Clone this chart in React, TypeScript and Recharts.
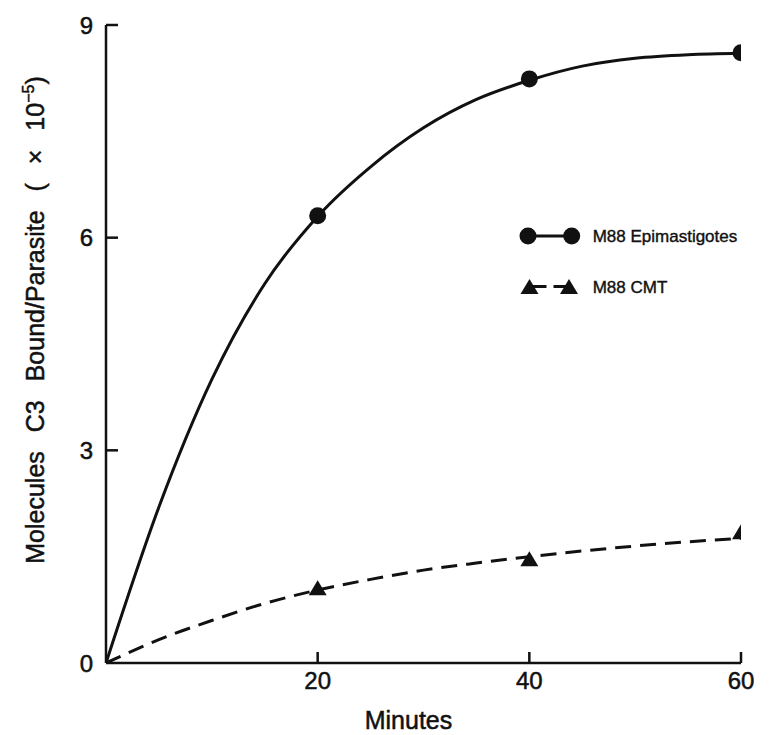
import React from "react";
import { ComposedChart, Line, Scatter, XAxis, YAxis, Legend } from "recharts";

// Fitted curves
const minutes = [0, 5, 10, 15, 20, 25, 30, 35, 40, 45, 50, 55, 60];
const epimastigoteCurve = [0, 2.2, 4.0, 5.35, 6.3, 7.0, 7.55, 7.95, 8.22, 8.42, 8.53, 8.58, 8.6];
const cmtCurve = [0, 0.33, 0.6, 0.84, 1.03, 1.18, 1.31, 1.41, 1.5, 1.58, 1.65, 1.71, 1.76];

// Measured points
const pointMinutes = [20, 40, 60];
const epimastigotePoints = [6.31, 8.24, 8.61];
const cmtPoints = [1.06, 1.47, 1.85];

const xTicks = [20, 40, 60];
const yTicks = [0, 3, 6, 9];

const seriesNames = ["M88 Epimastigotes", "M88 CMT"];

const curveData = minutes.map((t, i) => ({ t, epi: epimastigoteCurve[i], cmt: cmtCurve[i] }));
const epiData = pointMinutes.map((t, i) => ({ t, v: epimastigotePoints[i] }));
const cmtData = pointMinutes.map((t, i) => ({ t, v: cmtPoints[i] }));

const INK = "#111";
const FONT = "'Liberation Sans', Arial, Helvetica, sans-serif";
const TEXT_STROKE = { stroke: INK, strokeWidth: 0.5 };

const CircleShape = (props: any) => {
  const { cx, cy } = props;
  if (cx == null || cy == null) return <g />;
  return <circle cx={cx} cy={cy} r={8.5} fill={INK} />;
};

const TriangleShape = (props: any) => {
  const { cx, cy } = props;
  if (cx == null || cy == null) return <g />;
  const w = 18;
  const h = 15;
  return (
    <polygon
      points={`${cx - w / 2},${cy + h / 2} ${cx + w / 2},${cy + h / 2} ${cx},${cy - h / 2}`}
      fill={INK}
    />
  );
};

const XTick = (props: any) => {
  const { x, y, payload } = props;
  return (
    <g>
      <line x1={x} x2={x} y1={y} y2={y - 11} stroke={INK} strokeWidth={2.5} />
      <text x={x} y={y + 26} textAnchor="middle" fontSize={24} fill={INK} fontFamily={FONT} {...TEXT_STROKE}>
        {payload.value}
      </text>
    </g>
  );
};

const YTick = (props: any) => {
  const { x, y, payload } = props;
  return (
    <g>
      {payload.value !== 0 && (
        <line x1={x} x2={x + 12} y1={y} y2={y} stroke={INK} strokeWidth={2.5} />
      )}
      <text x={x - 13} y={y + 8.5} textAnchor="end" fontSize={24} fill={INK} fontFamily={FONT} {...TEXT_STROKE}>
        {payload.value}
      </text>
    </g>
  );
};

const YLabel = (props: any) => {
  const vb = props.viewBox || {};
  const x = (vb.x ?? 8) + 28;
  const y = (vb.y ?? 17) + (vb.height ?? 638) / 2 - 24;
  return (
    <text
      transform={`translate(${x},${y}) rotate(-90)`}
      textAnchor="middle"
      fontSize={25}
      fill={INK}
      fontFamily={FONT}
      style={{ wordSpacing: "12px" }}
      {...TEXT_STROKE}
    >
      Molecules C3 Bound/Parasite ( × 10
      <tspan dy={-10} fontSize={16}>
        −5
      </tspan>
      <tspan dy={10}>)</tspan>
    </text>
  );
};

const XLabel = (props: any) => {
  const vb = props.viewBox || {};
  const x = (vb.x ?? 98) + (vb.width ?? 635) / 2 - 15;
  const y = (vb.y ?? 655) + 66;
  return (
    <text x={x} y={y} textAnchor="middle" fontSize={25} fill={INK} fontFamily={FONT} {...TEXT_STROKE}>
      Minutes
    </text>
  );
};

const renderLegend = () => (
  <svg width={260} height={100} style={{ display: "block" }}>
    <line x1={20} x2={63.7} y1={23} y2={23} stroke={INK} strokeWidth={3} />
    <circle cx={20} cy={23} r={8.5} fill={INK} />
    <circle cx={63.7} cy={23} r={8.5} fill={INK} />
    <text x={84.7} y={29} fontSize={17} fill={INK} fontFamily={FONT} stroke={INK} strokeWidth={0.4}>
      {seriesNames[0]}
    </text>
    <line x1={21.5} x2={61} y1={73.5} y2={73.5} stroke={INK} strokeWidth={3} strokeDasharray="17 7" />
    <TriangleShape cx={21.5} cy={73.5} />
    <TriangleShape cx={61} cy={73.5} />
    <text x={84.7} y={79.5} fontSize={17} fill={INK} fontFamily={FONT} stroke={INK} strokeWidth={0.4}>
      {seriesNames[1]}
    </text>
  </svg>
);

export default function App() {
  return (
    <div style={{ width: 766, height: 727, fontFamily: FONT, background: "#fff" }}>
      <ComposedChart
        width={766}
        height={727}
        data={curveData}
        margin={{ top: 17, right: 33, bottom: 12, left: 8 }}
      >
        <XAxis
          type="number"
          dataKey="t"
          domain={[0, 60]}
          ticks={xTicks}
          allowDataOverflow
          height={60}
          tickSize={0}
          tickMargin={0}
          tickLine={false}
          axisLine={{ stroke: INK, strokeWidth: 2.5 }}
          tick={<XTick />}
          label={XLabel}
          interval={0}
        />
        <YAxis
          type="number"
          domain={[0, 9]}
          ticks={yTicks}
          allowDataOverflow
          width={90}
          tickSize={0}
          tickMargin={0}
          tickLine={false}
          axisLine={{ stroke: INK, strokeWidth: 2.5 }}
          tick={<YTick />}
          label={YLabel}
          interval={0}
        />
        <Legend
          layout="horizontal"
          verticalAlign="middle"
          align="center"
          content={renderLegend}
          wrapperStyle={{ position: "absolute", left: 500, top: 205, width: 260, height: 100 }}
        />
        <Line
          type="monotone"
          dataKey="epi"
          name={seriesNames[0]}
          stroke={INK}
          strokeWidth={3}
          dot={false}
          activeDot={false}
          isAnimationActive={false}
          legendType="none"
        />
        <Line
          type="monotone"
          dataKey="cmt"
          name={seriesNames[1]}
          stroke={INK}
          strokeWidth={3}
          strokeDasharray="16 9"
          dot={false}
          activeDot={false}
          isAnimationActive={false}
          legendType="none"
        />
        <Scatter data={epiData} dataKey="v" shape={CircleShape} isAnimationActive={false} legendType="none" />
        <Scatter data={cmtData} dataKey="v" shape={TriangleShape} isAnimationActive={false} legendType="none" />
      </ComposedChart>
    </div>
  );
}
